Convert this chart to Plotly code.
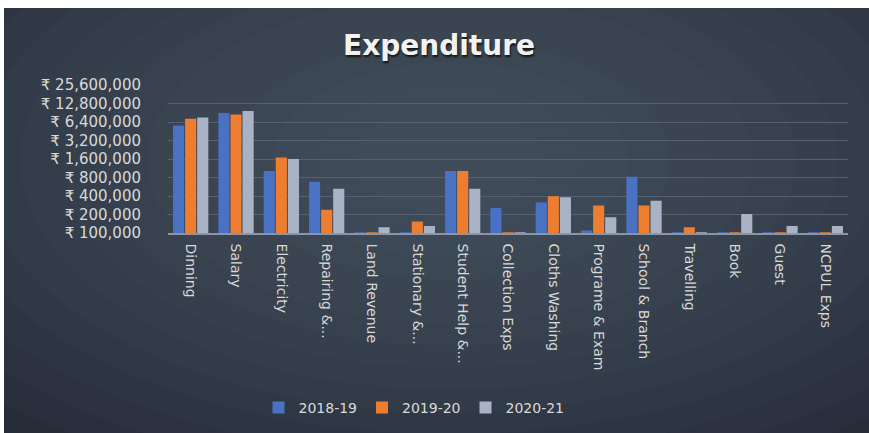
import plotly.graph_objects as go

categories = ["Dinning", "Salary", "Electricity", "Repairing &...", "Land Revenue",
              "Stationary &...", "Student Help &...", "Collection Exps", "Cloths Washing",
              "Programe & Exam", "School & Branch", "Travelling", "Book", "Guest", "NCPUL Exps"]
y2018 = [5600000, 9000000, 1020000, 680000, 103000, 103000, 1020000, 255000, 315000,
         110000, 820000, 103000, 103000, 103000, 103000]
y2019 = [7200000, 8500000, 1700000, 240000, 103000, 154000, 1020000, 103000, 395000,
         280000, 280000, 124000, 103000, 103000, 103000]
y2020 = [7600000, 9700000, 1600000, 525000, 124000, 130000, 525000, 103000, 380000,
         181000, 336000, 103000, 203000, 130000, 130000]
series_names = ["2018-19", "2019-20", "2020-21"]
tick_vals = [100000, 200000, 400000, 800000, 1600000, 3200000, 6400000, 12800000, 25600000]
tick_text = ["₹ {:,}".format(v) for v in tick_vals]
colors = ["#4a72c4", "#ee7d30", "#aab3c5"]

W, H = 869, 433
L, R, T, B = 168, 21, 85, 200
PW, PH = W - L - R, H - T - B

def px_x(x):
    return (x - L) / PW

def px_y(y):
    return (H - B - y) / PH

fig = go.Figure()
for name, vals, c in zip(series_names, [y2018, y2019, y2020], colors):
    fig.add_trace(go.Bar(x=categories, y=vals, name=name, marker_color=c,
                         marker_line_width=0))

shapes = [dict(type="rect", xref="paper", yref="paper", layer="below",
               x0=px_x(4), x1=px_x(W + 5), y0=px_y(H + 5), y1=px_y(8),
               fillcolor="#262c38", line_width=0)]
cx, cy = 450, 160
for i in range(14):
    rx = 640 - i * 42
    ry = 340 - i * 22
    shapes.append(dict(type="circle", xref="paper", yref="paper", layer="below",
                       x0=px_x(cx - rx), x1=px_x(cx + rx),
                       y0=px_y(cy + ry), y1=px_y(cy - ry),
                       fillcolor="#5a6376", opacity=0.07, line_width=0))
shapes.append(dict(type="rect", xref="paper", yref="paper", layer="below",
                   x0=px_x(-5), x1=px_x(W + 5), y0=px_y(8), y1=px_y(-5),
                   fillcolor="white", line_width=0))
shapes.append(dict(type="rect", xref="paper", yref="paper", layer="below",
                   x0=px_x(-5), x1=px_x(4), y0=px_y(H + 5), y1=px_y(-5),
                   fillcolor="white", line_width=0))

fig.update_layout(
    width=W, height=H,
    margin=dict(l=L, r=R, t=T, b=B),
    paper_bgcolor="white",
    plot_bgcolor="rgba(0,0,0,0)",
    shapes=shapes,
    barmode="group",
    bargap=0.2,
    bargroupgap=0.08,
    title=dict(text="<b>Expenditure</b>", x=439 / W, xref="container", y=1 - 45 / H,
               yref="container", xanchor="center", yanchor="middle",
               font=dict(family="DejaVu Sans", size=28, color="#f2f2f2",
                         shadow="1px 2px 2px rgba(0,0,0,0.7)")),
    font=dict(family="DejaVu Sans", color="#d9d9d9"),
    legend=dict(orientation="h", xref="container", yref="container",
                x=414 / W, y=1 - 408 / H, xanchor="center", yanchor="middle",
                font=dict(size=14, color="#d9d9d9"), bgcolor="rgba(0,0,0,0)",
                itemwidth=30),
    xaxis=dict(showline=True, linecolor="#8c95a5", linewidth=1.5, tickangle=90,
               tickfont=dict(size=14, color="#d9d9d9"), ticks="",
               ticklabelstandoff=6),
    yaxis=dict(type="log", range=[5, 7.4082], tickvals=tick_vals, ticktext=tick_text,
               showgrid=True, gridcolor="#566070", gridwidth=1, zeroline=False,
               tickfont=dict(size=15, color="#d9d9d9"), ticks="",
               ticklabelstandoff=26),
)
fig.write_html("out.html", config={"displayModeBar": False},
               post_script="document.body.style.margin='0';")
